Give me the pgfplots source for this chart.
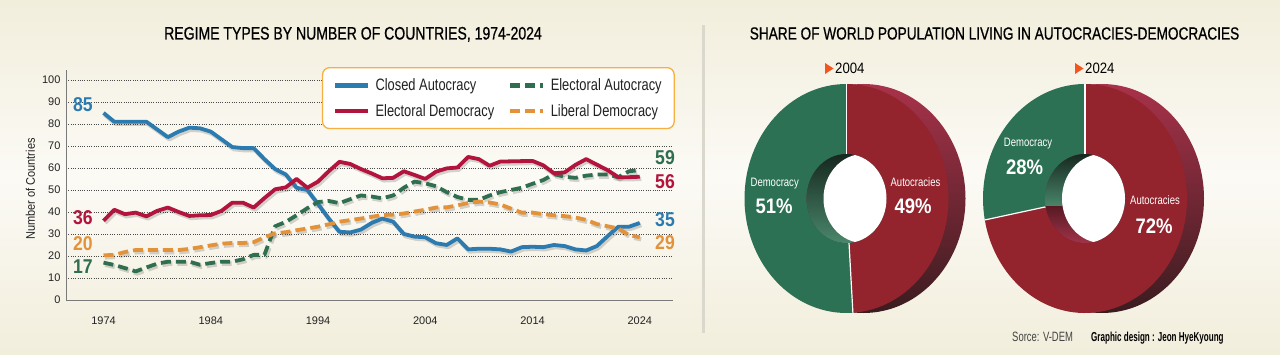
\documentclass[border=0pt]{standalone}
\usepackage{pgfplots}
\pgfplotsset{compat=1.18}
\usepackage{pgfplotstable}
\usepackage{fontspec}
\setmainfont{Liberation Sans}
\newfontfamily\cond[FakeStretch=0.78]{Liberation Sans}
\newfontfamily\condt[FakeStretch=0.78, FakeBold=0.7]{Liberation Sans}
\newfontfamily\condw[FakeStretch=0.88]{Liberation Sans}
\newfontfamily\condn[FakeStretch=0.70]{Liberation Sans}
\newfontfamily\condx[FakeStretch=0.62]{Liberation Sans}

\definecolor{bgEdge}{HTML}{F2EEDC}
\definecolor{bgMid}{HTML}{FBFAF5}
\definecolor{sepC}{HTML}{DAD7CC}
\definecolor{axisC}{HTML}{7A7A7A}
\definecolor{gridC}{HTML}{4A4A4A}
\definecolor{tickC}{HTML}{222222}
\definecolor{blueL}{HTML}{2B7BB0}
\definecolor{redL}{HTML}{B3143E}
\definecolor{greenL}{HTML}{2F6E4F}
\definecolor{orangeL}{HTML}{E3923A}
\definecolor{legOr}{HTML}{F5B041}
\definecolor{pieGreen}{HTML}{2C7154}
\definecolor{pieRed}{HTML}{93232C}
\definecolor{sideTop}{HTML}{A8324A}
\definecolor{sideMid}{HTML}{7B2030}
\definecolor{sideBot}{HTML}{3A1C1F}
\definecolor{wallGtop}{HTML}{15261E}
\definecolor{wallGbot}{HTML}{4A876B}
\definecolor{wallRtop}{HTML}{5A1A24}
\definecolor{wallRbot}{HTML}{A3344B}
\definecolor{arrowC}{HTML}{F0561D}

\pgfplotstableread{
year closed elecaut elecdem libdem
1974 85   17   36   20.3
1975 81   15.9 41   20.5
1976 81   14.5 39   21.8
1977 81   13   39.7 22.7
1978 81   14.8 38   22.7
1979 77.5 16.5 40.5 22.7
1980 74   17.4 42   22.7
1981 76.5 17.4 40   22.7
1982 78.3 17.4 38.2 23.2
1983 78   16   38.5 24
1984 76.5 16.8 38.6 24.8
1985 73   17.4 40.5 25.6
1986 69.5 17.4 44.2 25.9
1987 69   18.5 44.2 25.9
1988 69   20.5 42   26.3
1989 64   20.5 46.3 28.5
1990 59.5 33.5 50.3 30.3
1991 57   35.5 51.2 30.8
1992 51   38.5 55   31.7
1993 50   41.7 51   32.5
1994 43.6 44.5 53.8 33.3
1995 37   45   58.5 34.4
1996 31   44   62.8 35.6
1997 30.7 45.8 61.8 36.3
1998 32   47.5 59.5 37
1999 35   47   57.5 37.8
2000 37   46.2 55.3 38.6
2001 35.6 47.5 55.5 38.8
2002 30   51   58.5 39.3
2003 28.8 53.8 56.8 40.2
2004 28.5 53   55   41
2005 25.8 51.7 58.3 42
2006 25   49   59.8 42.1
2007 28   46.8 60.2 43
2008 23   45.5 65   44.1
2009 23.3 45.5 64   44.7
2010 23.3 47.5 61   44.3
2011 23   49   62.9 43.4
2012 22   50   63   41.5
2013 24   51   63.1 39.7
2014 24.2 52.8 63.2 39.7
2015 24   54.5 61.2 39
2016 25   57.2 57.6 38.5
2017 24.5 56   58   38.1
2018 23   55.5 61.4 37.5
2019 22.5 56.5 64   36.4
2020 24.5 57   61.5 34.5
2021 29   57   59   33.5
2022 33.3 55.8 55.8 32.5
2023 33.3 58.5 55.8 29.5
2024 35   59   56   28.5
}\regimes

% donut drawn in axis units (1 unit = 1pt); #1 = democracy share in percent
\newcommand{\donut}[1]{%
  \shade[top color=sideTop, middle color=sideMid, bottom color=sideBot]
    (axis cs:17,0) ellipse [x radius=102pt, y radius=114.5pt];
  \fill[pieGreen] (axis cs:0,114.5)
    arc[start angle=90, end angle={90+3.6*#1}, x radius=102pt, y radius=114.5pt]
    -- (axis cs:{40*cos(90+3.6*#1)},{44.5*sin(90+3.6*#1)})
    arc[start angle={90+3.6*#1}, end angle=90, x radius=40pt, y radius=44.5pt] -- cycle;
  \fill[pieRed] (axis cs:{102*cos(90+3.6*#1)},{114.5*sin(90+3.6*#1)})
    arc[start angle={90+3.6*#1}, end angle=450, x radius=102pt, y radius=114.5pt]
    -- (axis cs:0,44.5)
    arc[start angle=450, end angle={90+3.6*#1}, x radius=40pt, y radius=44.5pt] -- cycle;
  \draw[white, line width=1.2pt] (axis cs:0,44.5) -- (axis cs:0,114.5);
  \draw[white, line width=1.2pt] (axis cs:{40*cos(90+3.6*#1)},{44.5*sin(90+3.6*#1)})
    -- (axis cs:{102*cos(90+3.6*#1)},{114.5*sin(90+3.6*#1)});
  \begin{scope}
    \clip (axis cs:0,0) ellipse [x radius=40pt, y radius=44.5pt];
    \shade[top color=wallGtop, bottom color=wallGbot]
      (axis cs:-46,{44.5*sin(90+3.6*#1)}) rectangle (axis cs:46,46);
    \shade[top color=wallRtop, bottom color=wallRbot]
      (axis cs:-46,-46) rectangle (axis cs:46,{44.5*sin(90+3.6*#1)});
    \fill[white] (axis cs:17,0) ellipse [x radius=40pt, y radius=44.5pt];
  \end{scope}
}

\begin{document}
\begin{tikzpicture}[x=1pt,y=1pt]
\useasboundingbox (0,0) rectangle (1280,354);
\shade[top color=bgEdge, bottom color=bgEdge, middle color=bgMid] (0,0) rectangle (1280,354);
\fill[sepC] (702,21) rectangle (704.5,329);

% titles
\node[anchor=base, font=\condt\fontsize{18}{21}\selectfont, text=black] at (353,314.5)
  {REGIME TYPES BY NUMBER OF COUNTRIES, 1974-2024};
\node[anchor=base, font=\condt\fontsize{17.5}{21}\selectfont, text=black] at (994.5,314.5)
  {SHARE OF WORLD POPULATION LIVING IN AUTOCRACIES-DEMOCRACIES};

\begin{axis}[
  at={(66pt,54pt)}, anchor=south west,
  scale only axis, width=607pt, height=230pt,
  xmin=1970.5, xmax=2027.1, ymin=0, ymax=104.5,
  axis lines*=left,
  axis line style={draw=axisC, line width=0.9pt},
  xtick={1974,1984,...,2024},
  ytick={0,10,...,100},
  major tick length=0pt,
  ymajorgrids,
  grid style={gridC, line width=0.8pt, dash pattern=on 1pt off 1.3pt},
  tick label style={font=\fontsize{11}{13}\selectfont, text=tickC},
  /pgf/number format/assume math mode=true,
  xticklabel style={/pgf/number format/1000 sep={}, yshift=-13pt},
  yticklabel style={xshift=-2pt},
  clip=false,
  legend columns=2,
  legend cell align=left,
  legend image code/.code={\draw[#1, line width=4.5pt] (0pt,0pt) -- (33pt,0pt);},
  legend style={at={(axis description cs:1.003,1.013)}, anchor=north east,
    draw=legOr, line width=1.3pt, rounded corners=7pt, fill=white,
    font=\cond\fontsize{16.5}{19}\selectfont, text=tickC,
    inner xsep=10pt, inner ysep=8.5pt, row sep=7pt,
    nodes={inner sep=2.5pt},
    /tikz/every odd column/.append style={column sep=3pt},
    /tikz/every even column/.append style={column sep=11pt}},
]
% drop shadows
\addplot[black, opacity=0.16, line width=4.5pt, line join=round, mark=none, forget plot, xshift=1.5pt, yshift=-2pt] table[x=year,y=closed]{\regimes};
\addplot[black, opacity=0.16, line width=4.5pt, line join=round, mark=none, forget plot, xshift=1.5pt, yshift=-2pt, dash pattern=on 10pt off 5pt] table[x=year,y=elecaut]{\regimes};
\addplot[black, opacity=0.16, line width=4.5pt, line join=round, mark=none, forget plot, xshift=1.5pt, yshift=-2pt] table[x=year,y=elecdem]{\regimes};
\addplot[black, opacity=0.16, line width=4.5pt, line join=round, mark=none, forget plot, xshift=1.5pt, yshift=-2pt, dash pattern=on 10pt off 5pt] table[x=year,y=libdem]{\regimes};
% series
\addplot[blueL, line width=3.8pt, line join=round, mark=none] table[x=year,y=closed]{\regimes};
\addlegendentry{Closed Autocracy}
\addplot[greenL, line width=3.8pt, line join=round, mark=none, dash pattern=on 10pt off 5pt] table[x=year,y=elecaut]{\regimes};
\addlegendentry{Electoral Autocracy}
\addplot[redL, line width=3.8pt, line join=round, mark=none] table[x=year,y=elecdem]{\regimes};
\addlegendentry{Electoral Democracy}
\addplot[orangeL, line width=3.8pt, line join=round, mark=none, dash pattern=on 10pt off 5pt] table[x=year,y=libdem]{\regimes};
\addlegendentry{Liberal Democracy}
\end{axis}

% y axis label
\node[rotate=90, font=\condw\fontsize{12.5}{15}\selectfont, text=tickC] at (30.5,165) {Number of Countries};

% end labels
\begin{scope}[font=\condw\bfseries\fontsize{20}{22}\selectfont]
\node[anchor=base, text=blueL] at (83,242.3) {85};
\node[anchor=base, text=redL] at (83,129.3) {36};
\node[anchor=base, text=orangeL] at (83,103.3) {20};
\node[anchor=base, text=greenL] at (83,80.3) {17};
\node[anchor=base, text=greenL] at (665,189.3) {59};
\node[anchor=base, text=redL] at (665,165.3) {56};
\node[anchor=base, text=blueL] at (665,127.3) {35};
\node[anchor=base, text=orangeL] at (665,104.3) {29};
\end{scope}

% donuts
\begin{axis}[at={(846.5pt,155.5pt)}, anchor=center, x=1pt, y=1pt,
  xmin=-130, xmax=130, ymin=-130, ymax=130, hide axis, clip=false]
\donut{51}
\end{axis}
\begin{axis}[at={(1085pt,155.5pt)}, anchor=center, x=1pt, y=1pt,
  xmin=-130, xmax=130, ymin=-130, ymax=130, hide axis, clip=false]
\donut{28}
\end{axis}

% donut headings
\fill[arrowC] (825,291) -- (833.5,285.5) -- (825,280) -- cycle;
\node[anchor=base west, inner sep=0pt, font=\condw\fontsize{15}{17}\selectfont] at (835,280) {2004};
\fill[arrowC] (1075,291) -- (1083.5,285.5) -- (1075,280) -- cycle;
\node[anchor=base west, inner sep=0pt, font=\condw\fontsize{15}{17}\selectfont] at (1085,280) {2024};

% donut labels
\begin{scope}[text=white]
\node[anchor=base, font=\cond\fontsize{12.2}{14}\selectfont] at (774.7,167.5) {Democracy};
\node[anchor=base, font=\condw\bfseries\fontsize{21}{24}\selectfont] at (774,140.7) {51\%};
\node[anchor=base, font=\cond\fontsize{12.2}{14}\selectfont] at (915.5,167.5) {Autocracies};
\node[anchor=base, font=\condw\bfseries\fontsize{21}{24}\selectfont] at (913,140.7) {49\%};
\node[anchor=base, font=\cond\fontsize{12.2}{14}\selectfont] at (1028,207.7) {Democracy};
\node[anchor=base, font=\condw\bfseries\fontsize{21}{24}\selectfont] at (1024.5,179) {28\%};
\node[anchor=base, font=\cond\fontsize{12.2}{14}\selectfont] at (1155,149.7) {Autocracies};
\node[anchor=base, font=\condw\bfseries\fontsize{21}{24}\selectfont] at (1154,120.7) {72\%};
\end{scope}

% footer
\node[anchor=base west, inner sep=0pt, font=\condn\fontsize{13.5}{15}\selectfont, text=tickC!85] at (1012,12.3) {Sorce: V-DEM};
\node[anchor=base west, inner sep=0pt, font=\condx\bfseries\fontsize{13}{15}\selectfont, text=black] at (1091,12.3) {Graphic design : Jeon HyeKyoung};
\end{tikzpicture}
\end{document}
